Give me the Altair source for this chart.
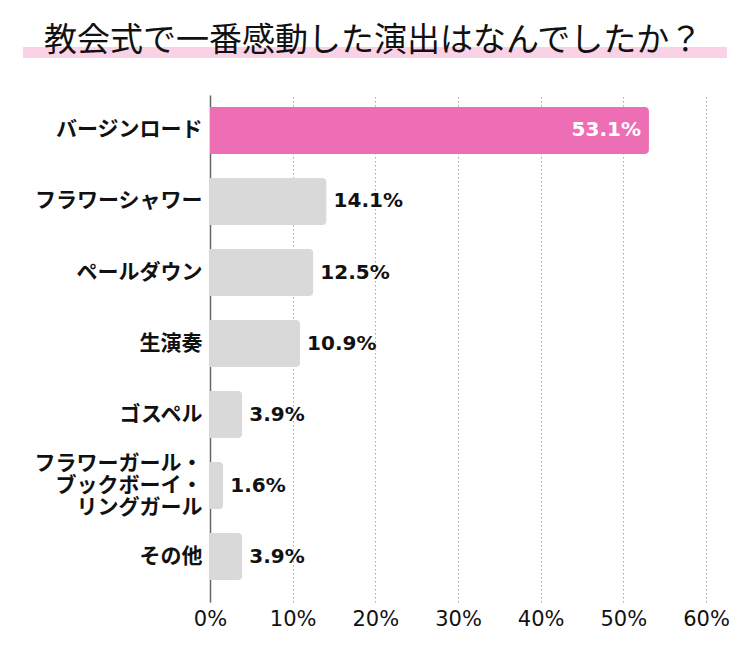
import altair as alt
import pandas as pd

title_text = "教会式で一番感動した演出はなんでしたか？"
categories = [
    "バージンロード",
    "フラワーシャワー",
    "ペールダウン",
    "生演奏",
    "ゴスペル",
    "フラワーガール・\nブックボーイ・\nリングガール",
    "その他",
]
values = [53.1, 14.1, 12.5, 10.9, 3.9, 1.6, 3.9]
groups = ["top", "other", "other", "other", "other", "other", "other"]
x_ticks = [0, 10, 20, 30, 40, 50, 60]

df = pd.DataFrame({"item": categories, "value": values, "group": groups})

y_enc = alt.Y(
    "item:N",
    sort=categories,
    scale=alt.Scale(paddingInner=0.338, paddingOuter=0.239, align=0.353),
    axis=alt.Axis(
        title=None,
        labelExpr="split(datum.label, '\\n')",
        labelFont="Noto Sans CJK JP",
        labelFontWeight="bold",
        labelFontSize=21,
        labelColor="#111111",
        labelLineHeight=22,
        labelPadding=8,
        labelLimit=0,
        labelOffset={
            "condition": {"test": "indexof(datum.value, 'ブックボーイ') >= 0", "value": -22},
            "value": 0,
        },
        ticks=False,
        grid=False,
        domainColor="#666666",
        domainWidth=1.5,
    ),
)
x_enc = alt.X(
    "value:Q",
    scale=alt.Scale(domain=[0, 60], nice=False),
    axis=alt.Axis(
        title=None,
        values=x_ticks,
        labelExpr="datum.value + '%'",
        labelFont="DejaVu Sans",
        labelFontSize=21,
        labelColor="#111111",
        labelFlush=False,
        labelPadding=6,
        domain=False,
        ticks=False,
        grid=True,
        gridColor="#aaaaaa",
        gridDash=[1.5, 2.5],
        gridWidth=1,
    ),
)

base = alt.Chart(df)

bars = base.mark_bar(cornerRadiusEnd=4).encode(
    x=x_enc,
    y=y_enc,
    color=alt.Color(
        "group:N",
        scale=alt.Scale(domain=["top", "other"], range=["#EE6EB5", "#D9D9D9"]),
        legend=None,
    ),
)

labels_out = (
    base.transform_filter("datum.group != 'top'")
    .transform_calculate(lbl="format(datum.value, '.1f') + '%'")
    .mark_text(align="left", baseline="middle", dx=7, font="DejaVu Sans",
               fontWeight="bold", fontSize=20, color="#111111")
    .encode(x=alt.X("value:Q"), y=alt.Y("item:N", sort=categories), text="lbl:N")
)
labels_in = (
    base.transform_filter("datum.group == 'top'")
    .transform_calculate(lbl="format(datum.value, '.1f') + '%'")
    .mark_text(align="right", baseline="middle", dx=-8, font="DejaVu Sans",
               fontWeight="bold", fontSize=20, color="#ffffff")
    .encode(x=alt.X("value:Q"), y=alt.Y("item:N", sort=categories), text="lbl:N")
)

band = alt.Chart(alt.Data(values=[{"t": title_text}])).mark_rule(
    color="#F9D3E5", strokeWidth=11, strokeCap="butt"
).encode(x=alt.value(-187), x2=alt.value(517), y=alt.value(-42.5))

title = alt.Chart(alt.Data(values=[{"t": title_text}])).mark_text(
    align="left", baseline="middle", font="Noto Sans CJK JP",
    fontSize=33, color="#111111"
).encode(x=alt.value(-166), y=alt.value(-54), text="t:N")

chart = alt.layer(band, title, bars, labels_out, labels_in).properties(
    width=496,
    height=507,
    autosize=alt.AutoSizeParams(type="none"),
    padding={"left": 202, "top": 87, "right": 30, "bottom": 40},
    background="white",
).configure_view(strokeWidth=0)

chart.save("out.html", embed_options={"renderer": "svg", "actions": False})
